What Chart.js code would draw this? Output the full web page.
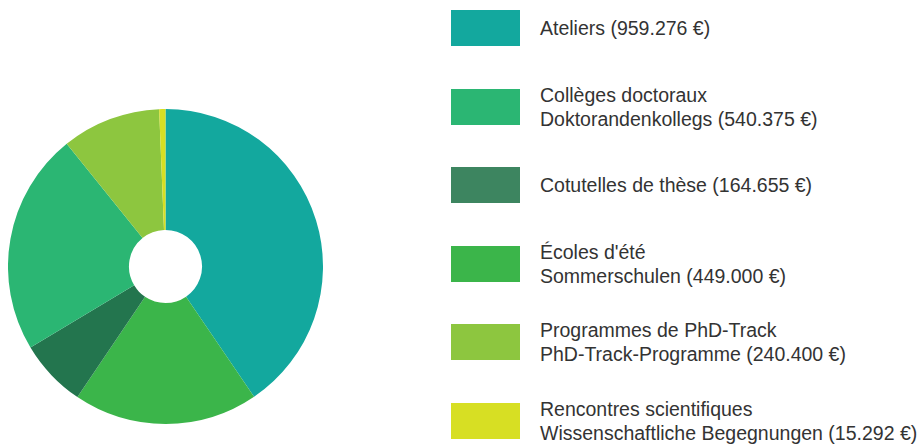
<!DOCTYPE html>
<html>
<head>
<meta charset="utf-8">
<script src="https://cdn.jsdelivr.net/npm/chart.js@4"></script>
<style>
  html, body { margin: 0; padding: 0; background: #fff; }
  body { width: 921px; height: 446px; position: relative; overflow: hidden; font-family: "Liberation Sans", Arial, sans-serif; }
  #chartBox { position: absolute; left: 8px; top: 109px; width: 315px; height: 315px; }
  #legend { position: absolute; left: 451px; top: 0; width: 470px; height: 446px; }
  .item { position: absolute; left: 0; height: 36px; width: 470px; }
  .swatch { position: absolute; left: 0; top: 0; width: 69px; height: 36px; }
  .txt { position: absolute; left: 89px; top: 50%; transform: translateY(-50%); font-size: 19.5px; line-height: 24px; color: #333; white-space: nowrap; }
</style>
</head>
<body>
<div id="chartBox"><canvas id="c"></canvas></div>
<div id="legend"></div>
<script>
// Data (legend order)
const labelsFr = ["Ateliers", "Collèges doctoraux", "Cotutelles de thèse", "Écoles d'été", "Programmes de PhD-Track", "Rencontres scientifiques"];
const labelsDe = ["", "Doktorandenkollegs", "", "Sommerschulen", "PhD-Track-Programme", "Wissenschaftliche Begegnungen"];
const amounts = [959276, 540375, 164655, 449000, 240400, 15292];
// Order in which slices appear clockwise from the top
const sliceOrder = [0, 3, 2, 1, 4, 5];

const sliceColors = ["#13a89e", "#2bb673", "#23754e", "#3bb54a", "#8dc63f", "#d7df23"];
const legendColors = ["#13a89e", "#2bb673", "#3d8560", "#3bb54a", "#8dc63f", "#d7df23"];

function fmt(v) { return String(v).replace(/\B(?=(\d{3})+(?!\d))/g, "."); }

const chartLabels = sliceOrder.map(i => labelsFr[i]);
const chartValues = sliceOrder.map(i => amounts[i]);
const chartColors = sliceOrder.map(i => sliceColors[i]);

new Chart(document.getElementById("c"), {
  type: "doughnut",
  data: {
    labels: chartLabels,
    datasets: [{
      data: chartValues,
      backgroundColor: chartColors,
      borderWidth: 0,
      hoverOffset: 0
    }]
  },
  options: {
    responsive: true,
    maintainAspectRatio: false,
    animation: false,
    cutout: "23.2%",
    layout: { padding: 0 },
    plugins: { legend: { display: false }, tooltip: { enabled: false } }
  }
});

// HTML legend
const legend = document.getElementById("legend");
labelsFr.forEach((fr, i) => {
  const item = document.createElement("div");
  item.className = "item";
  item.style.top = (10 + i * 78.6) + "px";
  const sw = document.createElement("div");
  sw.className = "swatch";
  sw.style.background = legendColors[i];
  const t = document.createElement("div");
  t.className = "txt";
  const amt = " (" + fmt(amounts[i]) + " €)";
  if (labelsDe[i]) {
    t.innerHTML = "";
    const l1 = document.createElement("div"); l1.textContent = fr;
    const l2 = document.createElement("div"); l2.textContent = labelsDe[i] + amt;
    t.appendChild(l1); t.appendChild(l2);
  } else {
    t.textContent = fr + amt;
  }
  item.appendChild(sw);
  item.appendChild(t);
  legend.appendChild(item);
});
</script>
</body>
</html>
